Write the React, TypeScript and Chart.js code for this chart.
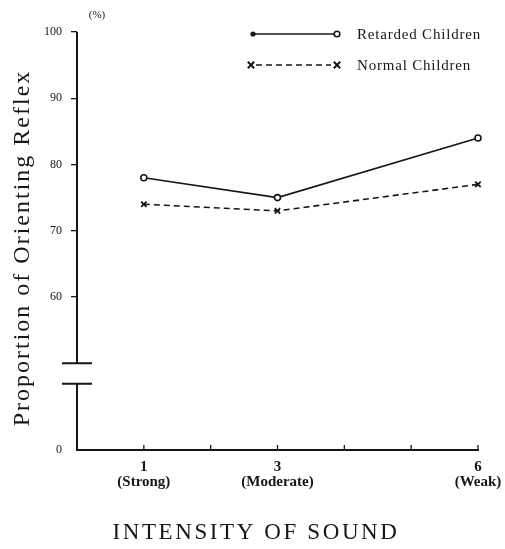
import React, { useEffect, useRef } from "react";
import { Chart, registerables, LinearScale } from "chart.js";

Chart.register(...registerables);

// ---- data ----
const intensities = [1, 3, 6];
const intensityNames = ["(Strong)", "(Moderate)", "(Weak)"];
const retardedChildren = [78, 75, 84];
const normalChildren = [74, 73, 77];
const seriesNames = ["Retarded Children", "Normal Children"];
const yTickValues = [0, 60, 70, 80, 90, 100];
const xTickValues = [1, 2, 3, 4, 5, 6];
const xTitle = "INTENSITY OF SOUND";
const yTitle = "Proportion of Orienting Reflex";
const yUnit = "(%)";

// axis break (real values)
const BREAK_LOW = 10;
const BREAK_HIGH = 50;
const DMIN = 36.9;

const INK = "#161616";
const SERIF = '"Liberation Serif", "DejaVu Serif", serif';

function toDisplay(v: number): number {
  if (v >= BREAK_HIGH) return v;
  if (v <= BREAK_LOW) return DMIN + v;
  return DMIN + BREAK_LOW + ((v - BREAK_LOW) * (BREAK_HIGH - DMIN - BREAK_LOW)) / (BREAK_HIGH - BREAK_LOW);
}
function fromDisplay(d: number): number {
  if (d >= BREAK_HIGH) return d;
  if (d <= DMIN + BREAK_LOW) return d - DMIN;
  return BREAK_LOW + ((d - DMIN - BREAK_LOW) * (BREAK_HIGH - BREAK_LOW)) / (BREAK_HIGH - DMIN - BREAK_LOW);
}

class BrokenLinearScale extends LinearScale {
  static id = "brokenLinear";
  getPixelForValue(value: number) {
    const d = toDisplay(value);
    return this.getPixelForDecimal((d - DMIN) / (100 - DMIN));
  }
  getValueForPixel(pixel: number) {
    const d = DMIN + this.getDecimalForPixel(pixel) * (100 - DMIN);
    return fromDisplay(d);
  }
}
Chart.register(BrokenLinearScale as any);

function drawCross(ctx: CanvasRenderingContext2D, cx: number, cy: number, r: number) {
  ctx.beginPath();
  ctx.moveTo(cx - r, cy - r);
  ctx.lineTo(cx + r, cy + r);
  ctx.moveTo(cx - r, cy + r);
  ctx.lineTo(cx + r, cy - r);
  ctx.stroke();
}

const decoPlugin = {
  id: "deco",
  afterDraw(chart: any) {
    const { ctx, chartArea, scales } = chart;
    const x = scales.x;
    const y = scales.y;
    const ax = chartArea.left;
    ctx.save();
    ctx.strokeStyle = INK;
    ctx.fillStyle = INK;
    ctx.lineCap = "butt";

    // broken y axis
    ctx.lineWidth = 2;
    ctx.beginPath();
    ctx.moveTo(ax, y.getPixelForValue(100));
    ctx.lineTo(ax, y.getPixelForValue(BREAK_HIGH));
    ctx.moveTo(ax, y.getPixelForValue(BREAK_LOW));
    ctx.lineTo(ax, y.getPixelForValue(0));
    ctx.stroke();
    ctx.beginPath();
    for (const v of [BREAK_HIGH, BREAK_LOW]) {
      const py = y.getPixelForValue(v);
      ctx.moveTo(ax - 15, py);
      ctx.lineTo(ax + 15, py);
    }
    ctx.stroke();

    // x tick marks pointing up
    ctx.lineWidth = 1.3;
    ctx.beginPath();
    for (const v of xTickValues) {
      const px = x.getPixelForValue(v);
      ctx.moveTo(px, chartArea.bottom);
      ctx.lineTo(px, chartArea.bottom - 5);
    }
    ctx.stroke();

    // unit
    ctx.font = `11px ${SERIF}`;
    ctx.textAlign = "center";
    ctx.textBaseline = "middle";
    ctx.fillText(yUnit, ax + 20, 15);

    // legend
    const ds = chart.data.datasets;
    const rows = [34, 65];
    ctx.font = `15px ${SERIF}`;
    (ctx as any).letterSpacing = "0.8px";
    ctx.textAlign = "left";
    ds.forEach((d: any, i: number) => {
      const ly = rows[i];
      ctx.lineWidth = 1.5;
      ctx.setLineDash(d.borderDash || []);
      ctx.beginPath();
      ctx.moveTo(i === 0 ? 253 : 256, ly);
      ctx.lineTo(i === 0 ? 337 : 331, ly);
      ctx.stroke();
      ctx.setLineDash([]);
      if (i === 0) {
        ctx.beginPath();
        ctx.arc(253, ly, 2.6, 0, Math.PI * 2);
        ctx.fill();
        ctx.beginPath();
        ctx.arc(337, ly, 2.8, 0, Math.PI * 2);
        ctx.fillStyle = "#fff";
        ctx.fill();
        ctx.fillStyle = INK;
        ctx.lineWidth = 1.6;
        ctx.stroke();
      } else {
        ctx.lineWidth = 2;
        drawCross(ctx, 251, ly, 3.2);
        drawCross(ctx, 337, ly, 3.2);
      }
      ctx.fillText(d.label, 357, ly + 1);
    });

    // x title
    ctx.font = `23px ${SERIF}`;
    (ctx as any).letterSpacing = "2.6px";
    ctx.textAlign = "center";
    ctx.textBaseline = "middle";
    ctx.fillText(xTitle, 256, 533);

    // y title
    ctx.save();
    ctx.translate(29, 248);
    ctx.rotate(-Math.PI / 2);
    ctx.font = `24px ${SERIF}`;
    (ctx as any).letterSpacing = "2px";
    ctx.textAlign = "center";
    ctx.textBaseline = "alphabetic";
    ctx.fillText(yTitle, 0, 0);
    ctx.restore();

    (ctx as any).letterSpacing = "0px";
    ctx.restore();
  },
};

export default function App() {
  const ref = useRef<HTMLCanvasElement | null>(null);

  useEffect(() => {
    if (!ref.current) return;
    const chart = new Chart(ref.current, {
      type: "line",
      data: {
        datasets: [
          {
            label: seriesNames[0],
            data: intensities.map((v, i) => ({ x: v, y: retardedChildren[i] })),
            borderColor: INK,
            borderWidth: 1.6,
            pointStyle: "circle",
            pointRadius: 3,
            pointBackgroundColor: "#fff",
            pointBorderColor: INK,
            pointBorderWidth: 1.6,
            tension: 0,
            clip: false as any,
          },
          {
            label: seriesNames[1],
            data: intensities.map((v, i) => ({ x: v, y: normalChildren[i] })),
            borderColor: INK,
            borderWidth: 1.6,
            borderDash: [6, 4],
            pointStyle: "crossRot",
            pointRadius: 3.8,
            pointBorderColor: INK,
            pointBorderWidth: 1.8,
            tension: 0,
            clip: false as any,
          },
        ],
      },
      options: {
        animation: false,
        responsive: false,
        layout: { padding: { left: 0, top: 32, right: 27, bottom: 0 } },
        plugins: {
          legend: { display: false },
          tooltip: { enabled: false },
          title: { display: false },
        },
        scales: {
          x: {
            type: "linear",
            min: 0,
            max: 6,
            afterBuildTicks: (s: any) => {
              s.ticks = xTickValues.map((v) => ({ value: v }));
            },
            afterFit: (s: any) => {
              s.height = 99;
              s.paddingLeft = 0;
              s.paddingRight = 0;
            },
            grid: { display: false, drawTicks: false },
            border: { display: true, color: INK, width: 2 },
            ticks: {
              autoSkip: false,
              maxRotation: 0,
              padding: 10,
              color: INK,
              font: { family: SERIF, size: 15, weight: "bold", lineHeight: 1 },
              callback: (v: any) => {
                const i = intensities.indexOf(Number(v));
                return i >= 0 ? [String(intensities[i]), intensityNames[i]] : "";
              },
            },
          },
          y: {
            type: "brokenLinear" as any,
            min: 0,
            max: 100,
            afterBuildTicks: (s: any) => {
              s.ticks = yTickValues.map((v) => ({ value: v }));
            },
            afterFit: (s: any) => {
              s.width = 77;
              s.paddingTop = 0;
              s.paddingBottom = 0;
            },
            border: { display: false },
            grid: {
              display: true,
              drawOnChartArea: false,
              drawTicks: true,
              tickLength: 6,
              lineWidth: 1.3,
              color: (c: any) => (c.tick && c.tick.value === 0 ? "rgba(0,0,0,0)" : INK),
            },
            ticks: {
              padding: 9,
              color: INK,
              font: { family: SERIF, size: 12 },
              callback: (v: any) => String(v),
            },
          },
        },
      },
      plugins: [decoPlugin],
    });
    return () => chart.destroy();
  }, []);

  return (
    <div style={{ position: "absolute", left: 0, top: 0, width: 505, height: 549, background: "#fff" }}>
      <canvas ref={ref} width={505} height={549} style={{ width: 505, height: 549, display: "block" }} />
    </div>
  );
}
